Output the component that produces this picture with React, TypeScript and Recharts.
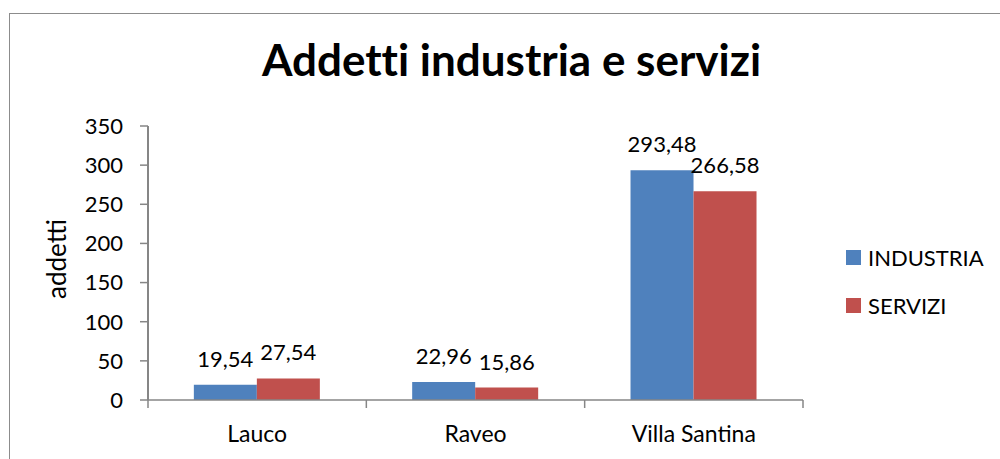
import { Bar, BarChart, CartesianGrid, LabelList, Legend, XAxis, YAxis } from "recharts";

const comuni = ["Lauco", "Raveo", "Villa Santina"];
const industria = [19.54, 22.96, 293.48];
const servizi = [27.54, 15.86, 266.58];
const yTicks = [0, 50, 100, 150, 200, 250, 300, 350];

const BLUE = "#4F81BD";
const RED = "#C0504D";
const AXIS = "#868686";
const FONT = "Lato, 'Open Sans', sans-serif";
const X_GAP = 26; // distance from axis line to top of category label
const TICK = 8;

const data = comuni.map((c, i) => ({ comune: c, industria: industria[i], servizi: servizi[i] }));

const fmt = (v: any) => Number(v).toFixed(2).replace(".", ",");

// Excel puts the category ticks on the band edges, not the centres.
function CategoryTick(props: any) {
  const { x, y, payload, index, visibleTicksCount } = props;
  const half = payload.offset ?? 0;
  const axisY = y - X_GAP;
  const last = index === visibleTicksCount - 1;
  return (
    <g>
      <line x1={x - half} x2={x - half} y1={axisY} y2={axisY + TICK} stroke={AXIS} strokeWidth={1.5} />
      {last && <line x1={x + half} x2={x + half} y1={axisY} y2={axisY + TICK} stroke={AXIS} strokeWidth={1.5} />}
      <text x={x} y={y} dy="0.71em" textAnchor="middle" fontSize={23} fill="#000">
        {payload.value}
      </text>
    </g>
  );
}

function AxisTitle({ viewBox }: any) {
  const cx = viewBox.x + 66;
  const cy = viewBox.y + viewBox.height / 2 - 4;
  return (
    <text x={cx} y={cy} transform={`rotate(-90, ${cx}, ${cy})`} textAnchor="middle" fontSize={26} fill="#000">
      addetti
    </text>
  );
}

function LegendBox({ payload }: { payload?: ReadonlyArray<any> }) {
  return (
    <ul style={{ listStyle: "none", margin: 0, padding: 0, fontFamily: FONT, fontSize: 22, color: "#000" }}>
      {(payload ?? []).map((p) => (
        <li key={p.value} style={{ display: "flex", alignItems: "center", height: 48 }}>
          <span style={{ width: 15, height: 15, background: p.color, marginRight: 7, display: "inline-block" }} />
          {p.value}
        </li>
      ))}
    </ul>
  );
}

export default function App() {
  return (
    <div style={{ position: "absolute", left: 0, top: 0, width: 1000, height: 459, background: "#fff", overflow: "hidden" }}>
      <div
        style={{
          position: "absolute",
          left: 9,
          top: 13,
          width: 1200,
          height: 600,
          borderTop: "1.5px solid #8c8c8c",
          borderLeft: "1.5px solid #8c8c8c",
        }}
      />
      <div
        style={{
          position: "absolute",
          left: 0,
          width: 1023,
          top: 33,
          textAlign: "center",
          fontFamily: FONT,
          fontWeight: 700,
          fontSize: 44,
          lineHeight: 1.2,
          fontVariantLigatures: "none",
        }}
      >
        Addetti industria e servizi
      </div>
      <div style={{ position: "absolute", left: 0, top: 0 }}>
        <BarChart
          width={1000}
          height={459}
          data={data}
          margin={{ top: 126, right: 197, bottom: 0, left: 0 }}
          barGap={0}
          barCategoryGap="21%"
          style={{ fontFamily: FONT }}
        >
          {/* the y axis line itself, drawn on the plot's left edge */}
          <CartesianGrid
            horizontal={false}
            stroke={AXIS}
            strokeWidth={2}
            verticalCoordinatesGenerator={({ offset }: any) => [offset.left]}
          />
          <XAxis
            dataKey="comune"
            height={59}
            stroke={AXIS}
            axisLine={{ stroke: AXIS, strokeWidth: 1.5 }}
            tickLine={false}
            tickSize={0}
            tickMargin={X_GAP}
            tick={<CategoryTick />}
          />
          <YAxis
            type="number"
            domain={[0, 350]}
            ticks={yTicks}
            width={148}
            tickSize={TICK}
            tickMargin={17}
            stroke={AXIS}
            axisLine={{ stroke: AXIS, strokeWidth: 2 }}
            tickLine={{ stroke: AXIS, strokeWidth: 1.5 }}
            tick={{ fill: "#000", fontSize: 22 }}
            label={<AxisTitle />}
          />
          <Legend
            layout="vertical"
            align="center"
            verticalAlign="middle"
            content={(p: any) => <LegendBox payload={p.payload} />}
            wrapperStyle={{ left: 846, top: 233, width: 150 }}
          />
          <Bar dataKey="industria" name="INDUSTRIA" fill={BLUE} isAnimationActive={false}>
            <LabelList dataKey="industria" position="top" offset={18} formatter={fmt} fill="#000" fontSize={22} />
          </Bar>
          <Bar dataKey="servizi" name="SERVIZI" fill={RED} isAnimationActive={false}>
            <LabelList dataKey="servizi" position="top" offset={18} formatter={fmt} fill="#000" fontSize={22} />
          </Bar>
        </BarChart>
      </div>
    </div>
  );
}
